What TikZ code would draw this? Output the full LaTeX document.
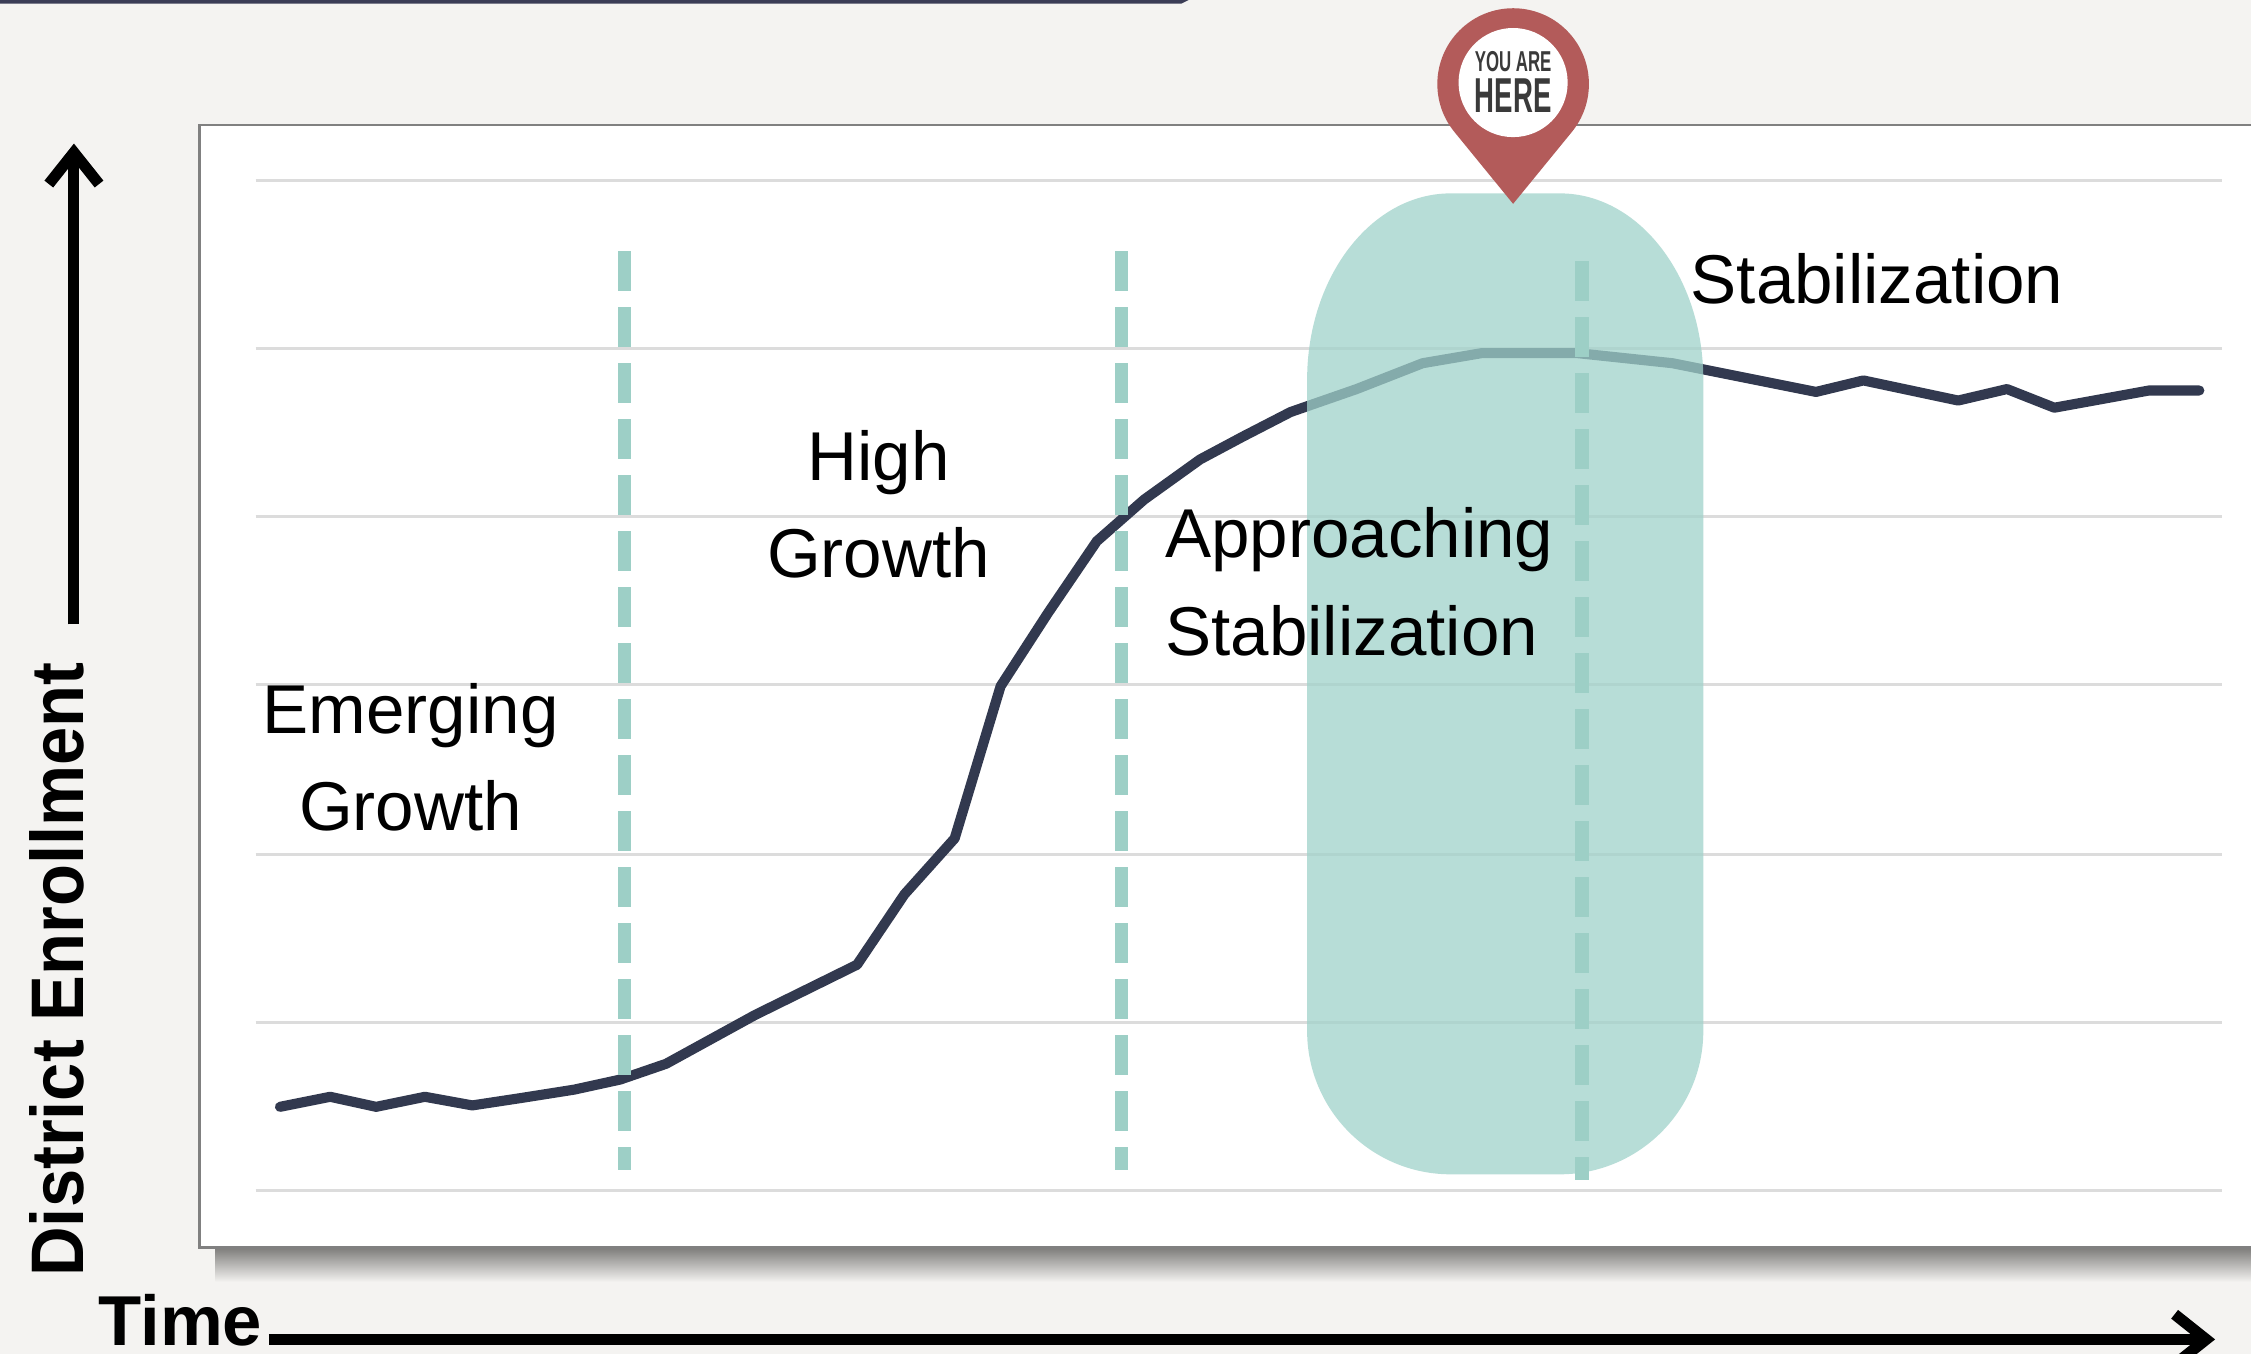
\documentclass[tikz,border=0pt]{standalone}
\usepackage{fontspec}
\setmainfont{Liberation Sans}
\usepackage{graphicx}
\usetikzlibrary{calc, positioning, shapes, arrows.meta, backgrounds}
\definecolor{bgcol}{RGB}{244,243,241}
\definecolor{topcol}{RGB}{59,61,86}
\definecolor{shadowcol}{RGB}{125,124,122}
\definecolor{gridcol}{RGB}{220,220,220}
\definecolor{curvecol}{RGB}{50,57,79}
\definecolor{dashcol}{RGB}{157,207,198}
\definecolor{bandcol}{RGB}{160,210,202}
\definecolor{pincol}{RGB}{179,91,90}
\definecolor{pintextcol}{RGB}{58,58,58}
\tikzstyle{gridline}=[gridcol, line width=0.6pt]
\tikzstyle{divider}=[dashcol, line width=2.6pt, dash pattern=on 2.8mm off 1.1mm]
\tikzstyle{phase}=[font=\fontsize{13.7}{19.3}\selectfont, inner sep=0pt]
\tikzstyle{axis}=[line width=2.2pt, -{Straight Barb[length=2.2mm, width=3.5mm]}]
\tikzstyle{pintext}=[pintextcol, font=\bfseries, inner sep=0pt]

\begin{document}
\begin{tikzpicture}[x=0.1mm, y=-0.1mm]

		%draw the background and the bar at the top
		\fill[bgcol] (0,0) rectangle (1568,943);
		\useasboundingbox (0,0) rectangle (1568,943);
		\fill[topcol] (0,-1) -- (830,-1) -- (823,2.5) -- (0,2.5) -- cycle;

		%draw the chart panel with its shadow
		\shade[top color=shadowcol, middle color=shadowcol!85!bgcol, bottom color=bgcol] (150,869) rectangle (1568,893);
		\fill[white] (139,87) rectangle (1568,869);
		\draw[gray, line width=0.45pt] (1568,87) -- (139,87) -- (139,869) -- (1568,869);

		%draw the grid lines
		\foreach \y in {126,243,360,477,595,712,829}
			\draw[gridline] (178,\y) -- (1548,\y);

		%draw the enrollment curve
		\draw[curvecol, line width=2pt, line join=round, line cap=round] plot coordinates{(195,771) (230,764) (262,771) (296,764) (329,770) (362,765) (400,759) (432,752) (464,741) (526,707) (597,672) (630,623) (665,584) (697,478) (730,427) (764,377) (797,348) (836,320) (866,304) (899,287) (945,271) (991,253) (1032,246) (1099,246) (1165,253) (1265,273) (1298,265) (1364,279) (1398,271) (1431,284) (1497,272) (1532,272)};

		%draw the highlighted band
		\fill[bandcol, fill opacity=0.75] (910.5,264.7) arc[start angle=180, end angle=270, x radius=100, y radius=130] -- (1086.5,134.7) arc[start angle=270, end angle=360, x radius=100, y radius=130] -- (1186.5,718) arc[start angle=0, end angle=90, radius=100] -- (1010.5,818) arc[start angle=90, end angle=180, radius=100] -- cycle;

		%draw the phase dividers
		\foreach \x/\t/\b in {435/175/815, 781/175/815, 1102/182/822}
			\draw[divider] (\x,\t) -- (\x,\b);

		%label the phases
		\node[phase, align=center, anchor=north] (emerging) at (286,475) {Emerging\\Growth};
		\node[phase, align=center, anchor=north] (high) at (612,299) {High\\Growth};
		\node[phase, align=left, anchor=north west] (approach) at (811,353) {Approaching\\Stabilization};
		\node[phase, anchor=north west] (stable) at (1177,176) {Stabilization};

		%draw the pin
		\fill[pincol] (1054,142) -- (1013.1,91.9) arc[start angle=140.8, end angle=399.2, radius=52.8] -- cycle;
		\fill[white] (1054,57.5) circle[radius=38];
		\node[pintext] (you) at (1054,43) {\resizebox{5.34mm}{1.4mm}{YOU ARE}};
		\node[pintext] (here) at (1054,66.8) {\resizebox{5.34mm}{2.35mm}{HERE}};

		%draw the axes
		\node[rotate=90, anchor=base west, inner sep=0pt] (enroll) at (58,890) {\resizebox{42.8mm}{3.76mm}{\bfseries District Enrollment}};
		\coordinate (ybase) at (51.5,435);
		\coordinate (ytip) at (51.5,100);
		\draw[axis] (ybase) -- (ytip);
		\node[anchor=base west, inner sep=0pt, font=\fontsize{14}{16}\selectfont\bfseries] (time) at (68,937) {Time};
		\coordinate (xtip) at (1543,933);
		\draw[axis] ([xshift=0.4mm]time.east |- xtip) -- (xtip);

	\end{tikzpicture}
\end{document}
